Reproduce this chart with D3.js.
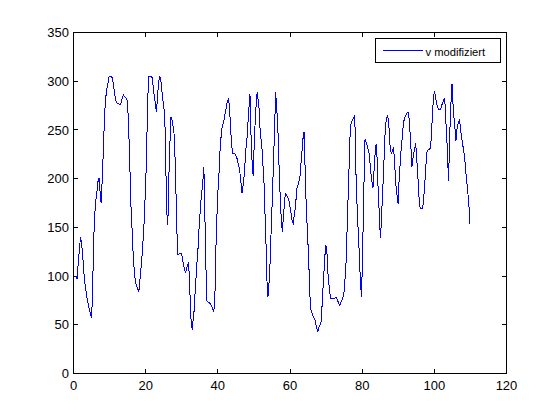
<!DOCTYPE html>
<html>
<head>
<meta charset="utf-8">
<script src="https://cdn.jsdelivr.net/npm/d3@7"></script>
<style>
  html, body { margin: 0; padding: 0; background: #ffffff; }
  svg { display: block; }
  text { font-family: "Liberation Sans", Arial, sans-serif; fill: #000; }
</style>
</head>
<body>
<svg id="chart" width="560" height="420"></svg>
<script>
// ---- data ----
const xTicks = [0, 20, 40, 60, 80, 100, 120];
const yTicks = [0, 50, 100, 150, 200, 250, 300, 350];
const seriesName = "v modifiziert";

const xValues = [
  0.8, 1.0, 1.3, 1.6, 1.94, 2.21, 2.58, 2.86, 3.22, 3.78, 4.42, 4.98, 5.25, 5.44, 5.71, 5.99,
  6.27, 6.54, 6.82, 7.1, 7.47, 7.65, 7.83, 8.11, 8.39, 8.66, 8.94, 9.22, 9.49, 9.86, 10.2, 10.7,
  10.96, 11.3, 11.6, 11.9, 12.4, 13.0, 13.5, 13.8, 14.4, 14.8, 15.2, 15.5, 15.8, 16.0, 16.3, 16.5,
  16.8, 17.1, 17.4, 17.8, 18.1, 18.3, 18.6, 18.9, 19.2, 19.5, 19.7, 20.0, 20.3, 20.6, 20.8, 21.7,
  21.9, 22.2, 22.5, 22.8, 23.0, 23.3, 23.6, 23.9, 24.2, 24.4, 24.7, 25.0, 25.3, 25.5, 25.8, 26.1,
  26.3, 26.5, 26.8, 27.0, 27.3, 27.6, 27.8, 28.1, 28.4, 28.7, 28.9, 29.4, 29.9, 30.1, 30.5, 30.8,
  31.1, 31.3, 31.6, 31.9, 32.1, 32.4, 32.6, 32.9, 33.2, 33.5, 33.7, 34.0, 34.3, 34.6, 34.8, 35.1,
  35.4, 35.7, 36.0, 36.1, 36.3, 36.5, 36.8, 37.0, 37.6, 38.2, 38.5, 38.9, 39.2, 39.4, 39.7, 40.0,
  40.3, 40.5, 40.8, 41.1, 41.4, 41.7, 41.9, 42.2, 42.5, 42.8, 43.0, 43.3, 43.6, 43.9, 44.1, 44.7,
  45.0, 45.3, 45.5, 45.8, 46.1, 46.4, 46.7, 47.0, 47.3, 47.5, 47.8, 48.1, 48.4, 48.7, 48.9, 49.2,
  49.5, 49.8, 50.0, 50.3, 50.6, 50.9, 51.1, 51.4, 51.7, 52.0, 52.3, 52.5, 52.8, 53.1, 53.4, 53.6,
  53.9, 54.2, 54.5, 54.7, 55.0, 55.3, 55.6, 55.9, 56.0, 56.2, 56.5, 56.8, 57.0, 57.3, 57.6, 57.9,
  58.1, 58.4, 58.7, 59.0, 59.3, 59.5, 59.8, 60.1, 60.4, 60.6, 60.9, 61.2, 61.4, 61.7, 61.9, 62.2,
  62.5, 62.8, 63.0, 63.3, 63.6, 63.9, 64.0, 64.2, 64.4, 64.7, 65.0, 65.3, 65.5, 65.8, 66.1, 66.6,
  66.9, 67.2, 67.5, 67.7, 68.0, 68.3, 68.6, 68.8, 69.1, 69.4, 69.7, 69.9, 70.2, 70.5, 70.8, 71.1,
  71.3, 71.9, 72.4, 72.7, 73.0, 73.3, 73.5, 73.8, 74.1, 74.4, 74.6, 74.9, 75.2, 75.5, 75.7, 76.0,
  76.3, 76.6, 76.9, 77.1, 77.4, 77.7, 77.96, 78.2, 78.5, 78.8, 79.1, 79.3, 79.6, 79.8, 80.0, 80.2,
  80.4, 80.6, 80.8, 81.1, 81.4, 81.6, 81.9, 82.2, 82.5, 82.8, 83.0, 83.2, 83.4, 83.6, 83.9, 84.1,
  84.3, 84.6, 84.9, 85.1, 85.3, 85.6, 85.9, 86.2, 86.4, 86.7, 87.0, 87.3, 87.5, 87.8, 88.1, 88.4,
  88.7, 88.9, 89.2, 89.5, 89.8, 89.96, 90.1, 90.4, 90.7, 91.0, 91.2, 91.5, 91.8, 92.1, 92.3, 92.6,
  92.8, 93.1, 93.4, 93.6, 93.8, 94.0, 94.3, 94.6, 94.8, 95.0, 95.3, 95.6, 95.8, 96.1, 96.5, 96.8,
  97.0, 97.3, 97.6, 97.9, 98.1, 98.5, 98.9, 99.2, 99.4, 99.7, 100.0, 100.3, 100.5, 100.8, 101.1, 101.7,
  101.9, 102.2, 102.5, 102.8, 103.0, 103.3, 103.6, 103.8, 103.95, 104.1, 104.3, 104.5, 104.7, 104.9, 105.0, 105.2,
  105.5, 105.8, 106.0, 106.2, 106.4, 106.7, 107.0, 107.3, 107.5, 107.8, 108.1, 108.4, 108.6, 108.9, 109.2, 109.5,
  109.7, 109.8
];

const vValues = [
  100, 97, 113, 126, 140, 134, 120, 104, 91, 77, 65, 57, 77, 111, 149, 169,
  180, 188, 198, 201, 181, 175, 188, 213, 242, 268, 283, 292, 297, 305, 305, 304,
  299, 290, 283, 278, 277, 276, 282, 286, 283, 282, 263, 226, 190, 162, 144, 125,
  108, 96, 91, 87, 84, 91, 104, 116, 132, 149, 169, 191, 236, 282, 305, 305,
  301, 290, 282, 273, 268, 285, 299, 305, 301, 294, 283, 275, 263, 231, 169, 152,
  172, 213, 244, 263, 260, 254, 251, 227, 186, 142, 122, 123, 123, 120, 111, 106,
  103, 108, 111, 114, 98, 70, 53, 45, 57, 67, 84, 101, 118, 133, 150, 166,
  181, 191, 205, 212, 191, 142, 94, 74, 73, 70, 67, 64, 81, 120, 157, 185,
  203, 222, 239, 251, 256, 260, 265, 270, 277, 280, 283, 268, 248, 232, 226, 226,
  224, 221, 217, 214, 207, 196, 185, 193, 203, 214, 231, 242, 260, 277, 287, 244,
  217, 203, 227, 254, 275, 289, 283, 273, 251, 239, 229, 214, 195, 161, 128, 96,
  79, 94, 115, 139, 169, 203, 237, 272, 289, 279, 261, 237, 207, 180, 157, 145,
  158, 171, 185, 183, 181, 180, 176, 169, 162, 156, 154, 163, 168, 180, 190, 193,
  198, 203, 214, 227, 241, 248, 234, 210, 183, 156, 132, 104, 81, 65, 62, 57,
  55, 50, 45, 43, 47, 50, 53, 64, 84, 104, 122, 132, 127, 104, 91, 81,
  77, 77, 77, 78, 77, 74, 72, 70, 73, 75, 77, 81, 94, 111, 132, 169,
  203, 241, 256, 258, 261, 263, 265, 215, 181, 154, 132, 111, 91, 79, 104, 139,
  176, 214, 241, 237, 234, 231, 226, 215, 203, 195, 191, 203, 214, 227, 236, 224,
  200, 176, 150, 139, 156, 180, 205, 232, 251, 261, 265, 260, 248, 229, 226, 229,
  232, 221, 203, 186, 181, 174, 190, 208, 226, 237, 248, 258, 263, 265, 267, 268,
  268, 258, 239, 226, 212, 219, 226, 231, 236, 229, 210, 193, 178, 169, 169, 170,
  178, 191, 210, 226, 229, 230, 231, 244, 261, 280, 290, 285, 280, 275, 271, 271,
  273, 277, 280, 282, 275, 251, 231, 210, 198, 221, 248, 268, 285, 297, 287, 275,
  260, 248, 239, 248, 254, 258, 260, 249, 244, 237, 229, 222, 212, 200, 190, 176,
  166, 153
];

// ---- layout ----
const svg = d3.select("#chart");
const plotL = 73.5, plotR = 506.5, plotT = 32.5, plotB = 373.5;

const xScale = d3.scaleLinear().domain([0, 120]).range([plotL, plotR]);
const yScale = d3.scaleLinear().domain([0, 350]).range([plotB, plotT]);

const points = xValues.map((xv, i) => [xv, vValues[i]]);

// plot box
svg.append("rect")
  .attr("x", plotL).attr("y", plotT)
  .attr("width", plotR - plotL).attr("height", plotB - plotT)
  .attr("fill", "#fff").attr("stroke", "#000").attr("stroke-width", 1)
  .attr("shape-rendering", "crispEdges");

const tickLen = 4.5;
const tickG = svg.append("g").attr("stroke", "#000").attr("stroke-width", 1)
  .attr("shape-rendering", "crispEdges");

xTicks.forEach(t => {
  const px = Math.round(xScale(t) - 0.5) + 0.5;
  tickG.append("line").attr("x1", px).attr("x2", px).attr("y1", plotB).attr("y2", plotB - tickLen);
  tickG.append("line").attr("x1", px).attr("x2", px).attr("y1", plotT).attr("y2", plotT + tickLen);
});
yTicks.forEach(t => {
  const py = Math.round(yScale(t) - 0.5) + 0.5;
  tickG.append("line").attr("x1", plotL).attr("x2", plotL + tickLen).attr("y1", py).attr("y2", py);
  tickG.append("line").attr("x1", plotR).attr("x2", plotR - tickLen).attr("y1", py).attr("y2", py);
});

// tick labels
svg.append("g").selectAll("text").data(xTicks).join("text")
  .attr("x", d => xScale(d))
  .attr("y", plotB + 16.5)
  .attr("text-anchor", "middle")
  .attr("font-size", "13px")
  .text(d => d);

svg.append("g").selectAll("text").data(yTicks).join("text")
  .attr("x", plotL - 4.5)
  .attr("y", d => yScale(d) + 4.7)
  .attr("text-anchor", "end")
  .attr("font-size", "13px")
  .text(d => d);

// series line (aliased, like the reference)
const line = d3.line().x(d => xScale(d[0])).y(d => yScale(d[1]));
svg.append("path")
  .datum(points)
  .attr("d", line)
  .attr("fill", "none")
  .attr("stroke", "#0000ff")
  .attr("stroke-width", 1)
  .attr("shape-rendering", "crispEdges");

// legend
const lg = svg.append("g");
lg.append("rect")
  .attr("x", 375.5).attr("y", 38.5).attr("width", 125).attr("height", 24)
  .attr("fill", "#fff").attr("stroke", "#000").attr("stroke-width", 1)
  .attr("shape-rendering", "crispEdges");
lg.append("line")
  .attr("x1", 383).attr("x2", 423).attr("y1", 50.5).attr("y2", 50.5)
  .attr("stroke", "#0000ff").attr("stroke-width", 1)
  .attr("shape-rendering", "crispEdges");
lg.append("text")
  .attr("x", 425.5).attr("y", 55.5)
  .attr("font-size", "11.2px")
  .text(seriesName);
</script>
</body>
</html>
